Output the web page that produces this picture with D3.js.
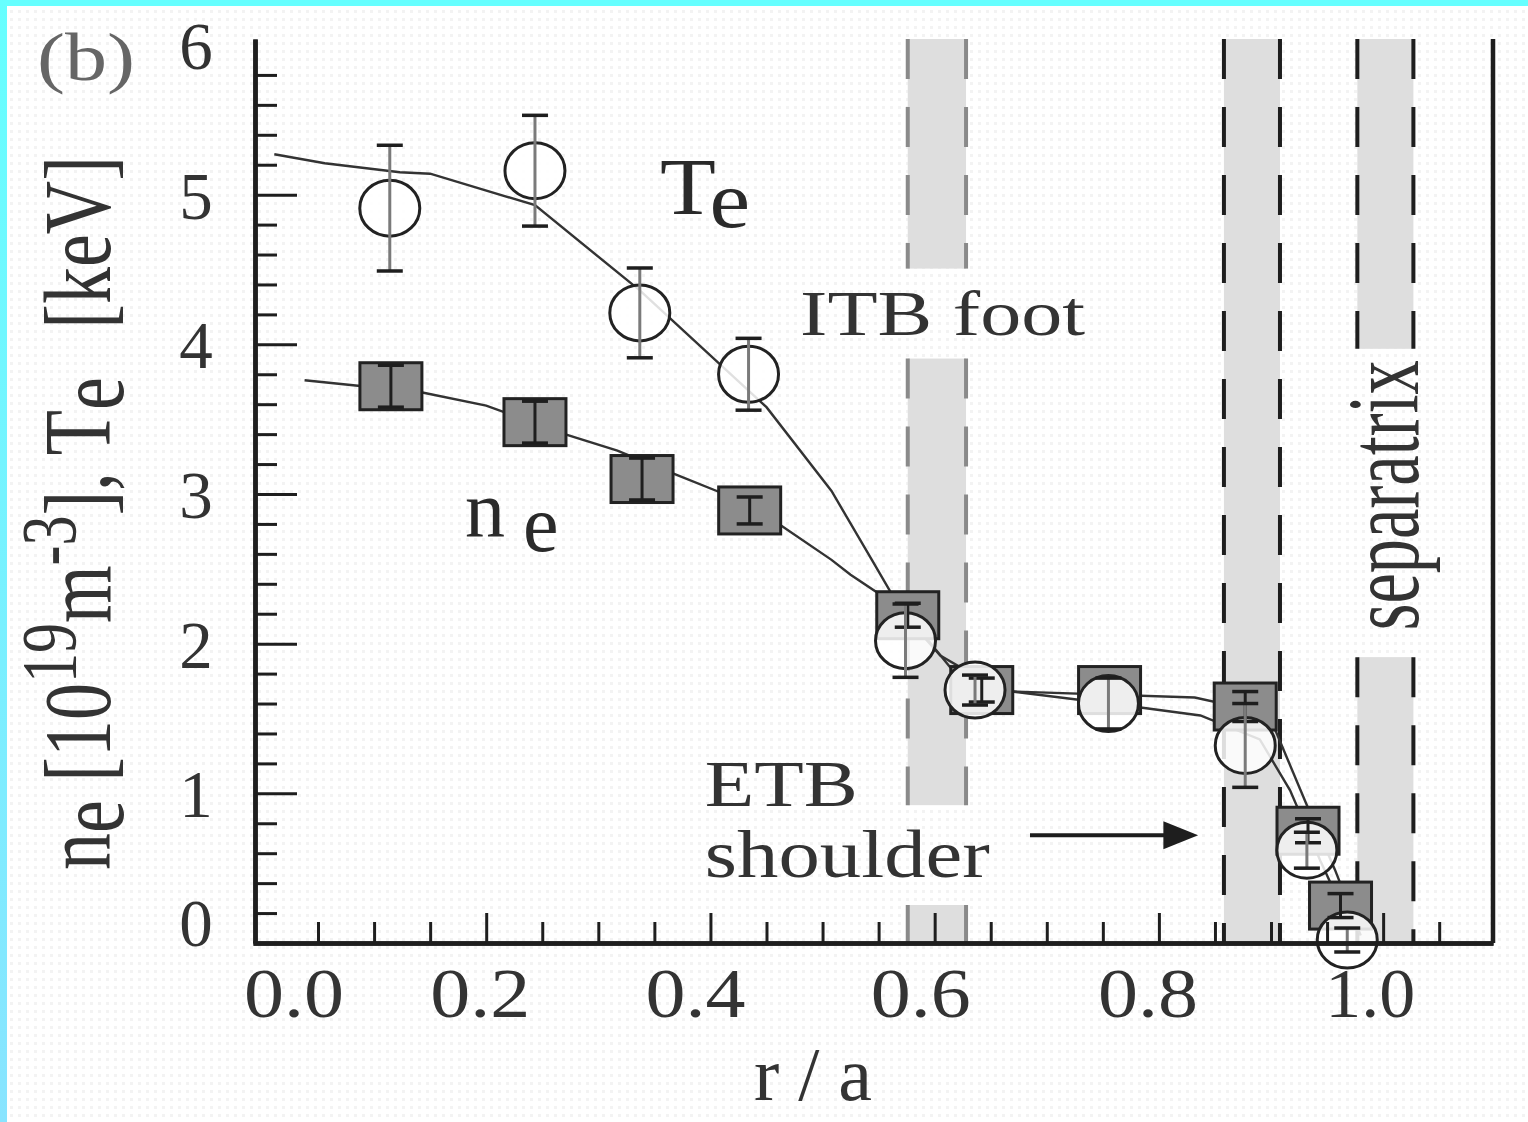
<!DOCTYPE html>
<html lang="en">
<head>
<meta charset="utf-8" />
<title>ne and Te profiles (b)</title>
<style>
  body { margin: 0; background: #fff; }
  svg { display: block; }
  text { font-family: "Liberation Serif", "DejaVu Serif", serif; fill: #2a2a2a; }
</style>
</head>
<body>
<svg width="1528" height="1122"></svg>
<script src="https://d3js.org/d3.v7.min.js"></script>
<script>
  // measured points: Te (open circles) and ne (grey squares)
  const teR   = [0.114, 0.2435, 0.337, 0.434, 0.574, 0.636, 0.755, 0.877, 0.932, 0.968];
  const teVal = [4.91, 5.16, 4.21, 3.80, 2.02, 1.69, 1.60, 1.32, 0.62, 0.02];
  const teErr = [0.42, 0.37, 0.30, 0.24, 0.245, 0.10, 0.17, 0.28, 0.12, 0.08];

  const neR   = [0.115, 0.2435, 0.339, 0.435, 0.576, 0.642, 0.756, 0.877, 0.933, 0.962];
  const neVal = [3.72, 3.48, 3.10, 2.89, 2.19, 1.69, 1.69, 1.58, 0.75, 0.25];
  const neErr = [0.14, 0.14, 0.14, 0.09, 0.08, 0.08, 0.0, 0.10, 0.08, 0.08];

  // fitted profiles
  const teFitR   = [0.011, 0.056, 0.123, 0.15, 0.2435, 0.337, 0.45, 0.508, 0.544, 0.565, 0.614, 0.67, 0.832, 0.881, 0.904, 0.932, 0.957, 0.98];
  const teFitVal = [5.27, 5.21, 5.15, 5.14, 4.93, 4.36, 3.58, 3.02, 2.56, 2.29, 1.84, 1.68, 1.64, 1.56, 1.42, 0.92, 0.49, 0.05];
  const neFitR   = [0.038, 0.142, 0.2, 0.27, 0.317, 0.366, 0.409, 0.463, 0.508, 0.525, 0.565, 0.605, 0.658, 0.777, 0.837, 0.89, 0.917, 0.944, 0.966];
  const neFitVal = [3.76, 3.68, 3.59, 3.40, 3.29, 3.14, 3.01, 2.79, 2.56, 2.46, 2.26, 1.92, 1.69, 1.58, 1.52, 1.36, 1.02, 0.55, 0.19];

  // shaded regions (ITB foot, ETB shoulder, separatrix)
  const bandLo = [0.576, 0.858, 0.977];
  const bandHi = [0.628, 0.908, 1.027];
  const bandGaps = [[[3.905, 4.506], [0.254, 0.921]], [], [[1.91, 3.97]]];

  const xTickLabels = ["0.0", "0.2", "0.4", "0.6", "0.8", "1.0"];
  const yTickLabels = [0, 1, 2, 3, 4, 5, 6];

  const svg = d3.select("svg");
  const x = d3.scaleLinear().domain([-0.008, 1.098]).range([253, 1493]);
  const y = d3.scaleLinear().domain([0, 6.04]).range([943, 39]);

  // background with faint dither dots and cyan frame
  const defs = svg.append("defs");
  const pat = defs.append("pattern").attr("id", "dots")
    .attr("width", 8).attr("height", 8).attr("patternUnits", "userSpaceOnUse");
  pat.append("rect").attr("width", 8).attr("height", 8).attr("fill", "#fff");
  pat.append("rect").attr("x", 2).attr("y", 2).attr("width", 3).attr("height", 3).attr("fill", "#f3f3f3");
  const grad = defs.append("linearGradient").attr("id", "cy").attr("x1", 0).attr("y1", 0).attr("x2", 0).attr("y2", 1);
  grad.append("stop").attr("offset", 0).attr("stop-color", "#66ffff");
  grad.append("stop").attr("offset", 1).attr("stop-color", "#88e4ff");

  svg.append("rect").attr("width", 1528).attr("height", 1122).attr("fill", "url(#dots)");
  svg.append("rect").attr("width", 1528).attr("height", 6).attr("fill", "#66ffff");
  svg.append("rect").attr("width", 7).attr("height", 1122).attr("fill", "url(#cy)");

  // bands split around their text gaps
  const [y0, y1] = y.domain();
  bandLo.forEach((lo, i) => {
    const cuts = [y0].concat(bandGaps[i].slice().sort((a, b) => a[0] - b[0]).flat(), [y1]);
    const lineCol = i === 0 ? "#8a8a8a" : "#1e1e1e";
    for (let k = 0; k < cuts.length; k += 2) {
      const a = cuts[k], b = cuts[k + 1];
      svg.append("rect")
        .attr("x", x(lo)).attr("width", x(bandHi[i]) - x(lo))
        .attr("y", y(b)).attr("height", y(a) - y(b))
        .attr("fill", "#dedede");
      [lo, bandHi[i]].forEach(v => {
        svg.append("line")
          .attr("x1", x(v)).attr("x2", x(v))
          .attr("y1", y(b)).attr("y2", y(a))
          .attr("stroke", lineCol).attr("stroke-width", 4)
          .attr("stroke-dasharray", "40 28");
      });
    }
  });

  // fit lines
  const line = d3.line().x(d => x(d[0])).y(d => y(d[1]));
  svg.append("path").datum(d3.zip(neFitR, neFitVal))
    .attr("d", line).attr("fill", "none").attr("stroke", "#333").attr("stroke-width", 2.4);
  svg.append("path").datum(d3.zip(teFitR, teFitVal))
    .attr("d", line).attr("fill", "none").attr("stroke", "#333").attr("stroke-width", 2.4);

  // ne squares
  const sqW = 62, sqH = 47;
  svg.append("g").selectAll("rect").data(d3.zip(neR, neVal)).join("rect")
    .attr("x", d => x(d[0]) - sqW / 2).attr("y", d => y(d[1]) - sqH / 2)
    .attr("width", sqW).attr("height", sqH)
    .attr("fill", "#8c8c8c").attr("stroke", "#222").attr("stroke-width", 3);

  // Te circles
  svg.append("g").selectAll("ellipse").data(d3.zip(teR, teVal)).join("ellipse")
    .attr("cx", d => x(d[0])).attr("cy", d => y(d[1]))
    .attr("rx", 30).attr("ry", 28)
    .attr("fill", "#fff").attr("fill-opacity", 0.85)
    .attr("stroke", "#222").attr("stroke-width", 3);

  // error bars
  function errBars(rs, vs, es, stemCol) {
    const g = svg.append("g");
    rs.forEach((r, i) => {
      if (!es[i]) return;
      const cx = x(r), top = y(vs[i] + es[i]), bot = y(vs[i] - es[i]);
      g.append("line").attr("x1", cx).attr("x2", cx).attr("y1", top).attr("y2", bot)
        .attr("stroke", stemCol).attr("stroke-width", 3);
      [top, bot].forEach(yy => g.append("line")
        .attr("x1", cx - 13).attr("x2", cx + 13).attr("y1", yy).attr("y2", yy)
        .attr("stroke", "#1e1e1e").attr("stroke-width", 3.5));
    });
  }
  errBars(neR, neVal, neErr, "#1e1e1e");
  errBars(teR, teVal, teErr, "#7a7a7a");

  // axes with inward ticks
  const xMinor = d3.range(1, 22).map(i => +(i * 0.05).toFixed(2)).filter(v => Math.round(v * 100) % 20 !== 0);
  const xMajor = [0.2, 0.4, 0.6, 0.8, 1.0];
  const yMinor = d3.range(1, 30).map(i => +(i * 0.2).toFixed(1)).filter(v => Math.abs(v - Math.round(v)) > 1e-6);
  const yMajor = [1, 2, 3, 4, 5];

  function styleAxis(g) {
    g.selectAll("path").attr("stroke", "#1e1e1e").attr("stroke-width", 4.5);
    g.selectAll("line").attr("stroke", "#1e1e1e").attr("stroke-width", 3);
    g.selectAll("text").remove();
  }
  svg.append("g").attr("transform", "translate(0,943)")
    .call(d3.axisBottom(x).tickValues(xMinor).tickSizeInner(-21).tickSizeOuter(0)).call(styleAxis);
  svg.append("g").attr("transform", "translate(0,943)")
    .call(d3.axisBottom(x).tickValues(xMajor).tickSizeInner(-30).tickSizeOuter(0)).call(styleAxis);
  svg.append("g").attr("transform", "translate(255,0)")
    .call(d3.axisLeft(y).tickValues(yMinor).tickSizeInner(-22).tickSizeOuter(0)).call(styleAxis);
  svg.append("g").attr("transform", "translate(255,0)")
    .call(d3.axisLeft(y).tickValues(yMajor).tickSizeInner(-42).tickSizeOuter(0)).call(styleAxis);
  svg.append("line").attr("x1", x.range()[1]).attr("x2", x.range()[1])
    .attr("y1", y.range()[1]).attr("y2", y.range()[0])
    .attr("stroke", "#1e1e1e").attr("stroke-width", 4.5);

  // tick labels (the scanned original sits slightly off the ticks)
  const xNudge = [32, -6, -15, -14, -11, -13];
  svg.append("g").selectAll("text").data(xTickLabels).join("text")
    .attr("x", (d, i) => x(+d) + xNudge[i]).attr("y", 1017)
    .attr("text-anchor", "middle")
    .attr("textLength", (d, i) => i === 5 ? 90 : 100).attr("lengthAdjust", "spacingAndGlyphs")
    .style("font-size", "70px").style("fill", "#333")
    .text(d => d);
  svg.append("g").selectAll("text").data(yTickLabels).join("text")
    .attr("x", 196).attr("y", d => y(d) + 24 - (d === 0 ? 21 : 0))
    .attr("text-anchor", "middle")
    .style("font-size", "67px").style("fill", "#333")
    .text(d => d);

  // axis titles
  svg.append("text").attr("x", 813).attr("y", 1100).attr("text-anchor", "middle")
    .style("font-size", "76px").style("fill", "#333").text("r / a");

  const yl = svg.append("text")
    .attr("transform", "translate(110,870) rotate(-90) scale(1,1.3)")
    .style("font-size", "74px").style("fill", "#333");
  yl.append("tspan").text("n");
  yl.append("tspan").attr("dy", 10).text("e");
  yl.append("tspan").attr("dy", -10).text(" [10");
  yl.append("tspan").attr("dy", -27).style("font-size", "60px").text("19");
  yl.append("tspan").attr("dy", 27).text("m");
  yl.append("tspan").attr("dy", -27).style("font-size", "60px").text("-3");
  yl.append("tspan").attr("dy", 27).text("], T");
  yl.append("tspan").attr("dy", 10).text("e");
  yl.append("tspan").attr("dy", -10).attr("dx", 30).text(" [keV]");

  // annotations
  svg.append("text").attr("x", 37).attr("y", 80)
    .attr("textLength", 98).attr("lengthAdjust", "spacingAndGlyphs")
    .style("font-size", "68px").style("fill", "#666").text("(b)");

  const te = svg.append("text").attr("x", x(0.355)).attr("y", y(4.87))
    .attr("textLength", 90).attr("lengthAdjust", "spacingAndGlyphs").style("font-size", "80px");
  te.append("tspan").text("T");
  te.append("tspan").attr("dy", 13).text("e");

  const ne = svg.append("text").attr("x", x(0.181)).attr("y", y(2.72)).style("font-size", "80px");
  ne.append("tspan").text("n");
  ne.append("tspan").attr("dx", 18).attr("dy", 15).text("e");

  svg.append("text").attr("x", x(0.48)).attr("y", y(4.06))
    .attr("textLength", 285).attr("lengthAdjust", "spacingAndGlyphs")
    .style("font-size", "63px").style("fill", "#333").text("ITB foot");
  svg.append("text").attr("x", x(0.395)).attr("y", y(0.915))
    .attr("textLength", 153).attr("lengthAdjust", "spacingAndGlyphs")
    .style("font-size", "65px").style("fill", "#333").text("ETB");
  svg.append("text").attr("x", x(0.395)).attr("y", y(0.44))
    .attr("textLength", 285).attr("lengthAdjust", "spacingAndGlyphs")
    .style("font-size", "68px").style("fill", "#333").text("shoulder");

  // arrow to ETB shoulder
  svg.append("line").attr("x1", x(0.685)).attr("x2", x(0.81))
    .attr("y1", y(0.72)).attr("y2", y(0.72))
    .attr("stroke", "#1e1e1e").attr("stroke-width", 4);
  svg.append("path")
    .attr("d", `M${x(0.804)},${y(0.72) - 14}L${x(0.835)},${y(0.72)}L${x(0.804)},${y(0.72) + 14}Z`)
    .attr("fill", "#1e1e1e");

  svg.append("text")
    .attr("transform", `translate(${x(1.031)},${y(2.09)}) rotate(-90) scale(1,1.5)`)
    .attr("textLength", 270).attr("lengthAdjust", "spacingAndGlyphs")
    .style("font-size", "68px").style("fill", "#333").text("separatrix");
</script>
</body>
</html>
